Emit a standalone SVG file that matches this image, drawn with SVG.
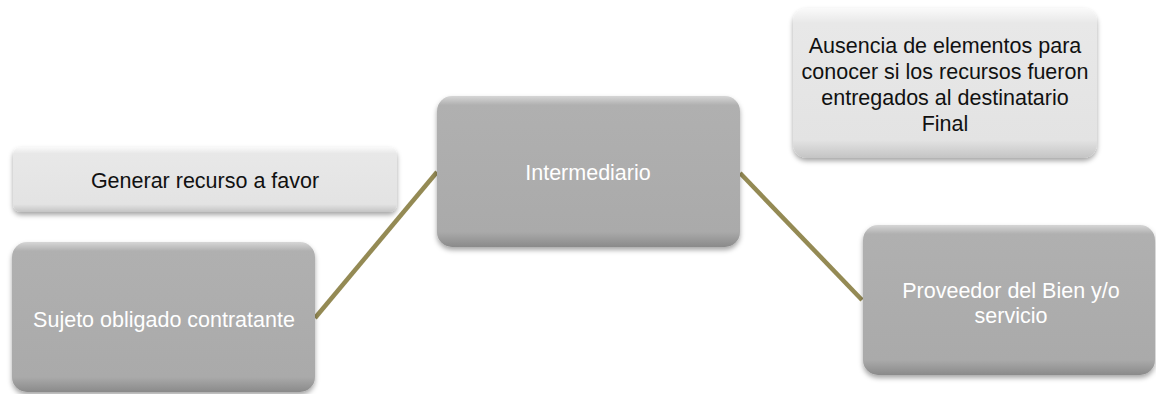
<svg xmlns="http://www.w3.org/2000/svg" width="1156" height="394" viewBox="0 0 1156 394">
<defs>
<style>
.dark{fill:url(#gDark);filter:url(#shadow);}
.light{fill:url(#gLight);filter:url(#shadow);}
.tw{font-family:"Liberation Sans",Arial,sans-serif;font-size:21.5px;fill:#ffffff;text-anchor:middle;}
.tb{font-family:"Liberation Sans",Arial,sans-serif;font-size:21.5px;fill:#111111;text-anchor:middle;}
.conn{stroke:#948a54;stroke-width:4.5;fill:none;}
</style>
<linearGradient id="gDark" x1="0" y1="0" x2="0" y2="1">
<stop offset="0" stop-color="#d6d6d6"/>
<stop offset="0.06" stop-color="#b0b0b0"/>
<stop offset="0.9" stop-color="#aaaaaa"/>
<stop offset="1" stop-color="#8a8a8a"/>
</linearGradient>
<linearGradient id="gLight" x1="0" y1="0" x2="0" y2="1">
<stop offset="0" stop-color="#fafafa"/>
<stop offset="0.1" stop-color="#e8e8e8"/>
<stop offset="0.88" stop-color="#e3e3e3"/>
<stop offset="1" stop-color="#c4c4c4"/>
</linearGradient>
<filter id="shadow" x="-10%" y="-10%" width="120%" height="130%">
<feDropShadow dx="0" dy="3" stdDeviation="2.5" flood-color="#000" flood-opacity="0.35"/>
</filter>
</defs>
<g id="connectors">
<line class="conn" x1="315" y1="318" x2="437" y2="172"/>
<line class="conn" x1="740" y1="173" x2="862" y2="300"/>
</g>
<g id="node-ausencia">
<rect class="light" x="793" y="8" width="304" height="150" rx="14"/>
<text class="tb" x="945" y="53">Ausencia de elementos para</text>
<text class="tb" x="945" y="79">conocer si los recursos fueron</text>
<text class="tb" x="945" y="105">entregados al destinatario</text>
<text class="tb" x="945" y="131">Final</text>
</g>
<g id="node-generar">
<rect class="light" x="13" y="147" width="384" height="65" rx="8"/>
<text class="tb" x="205" y="188">Generar recurso a favor</text>
</g>
<g id="node-intermediario">
<rect class="dark" x="437" y="96" width="303" height="151" rx="15"/>
<text class="tw" x="588" y="180">Intermediario</text>
</g>
<g id="node-sujeto">
<rect class="dark" x="12" y="242" width="303" height="150" rx="15"/>
<text class="tw" x="164" y="327">Sujeto obligado contratante</text>
</g>
<g id="node-proveedor">
<rect class="dark" x="863" y="225" width="292" height="150" rx="15"/>
<text class="tw" x="1011" y="298">Proveedor del Bien y/o</text>
<text class="tw" x="1011" y="323">servicio</text>
</g>
</svg>
